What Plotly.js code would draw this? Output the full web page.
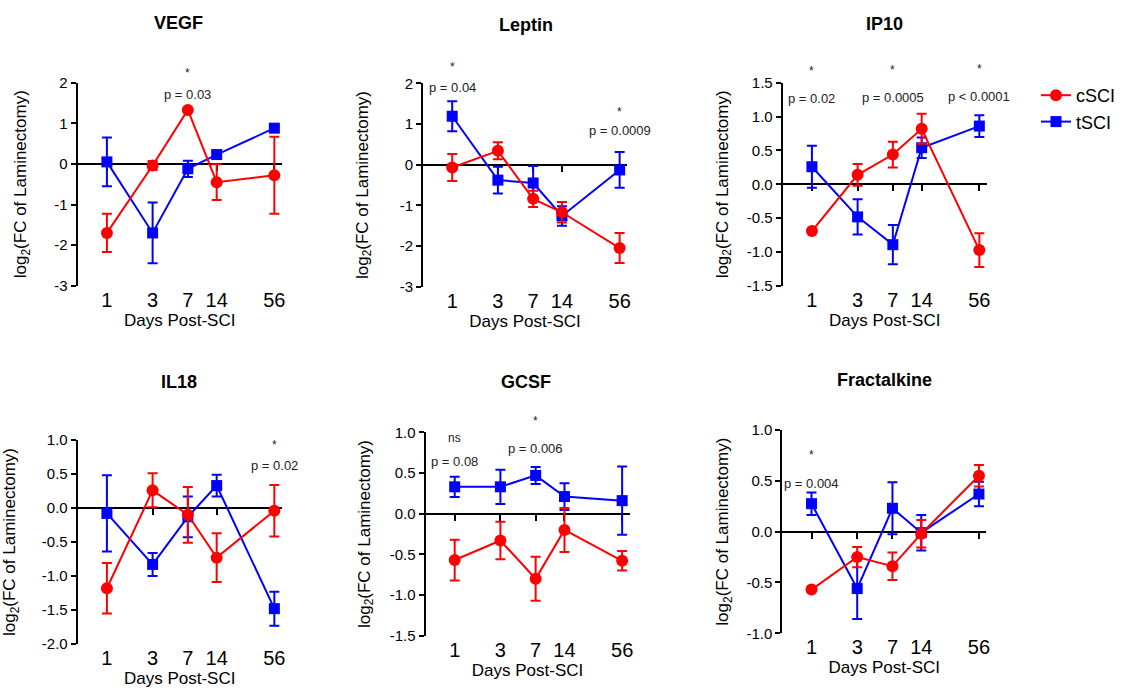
<!DOCTYPE html>
<html>
<head>
<meta charset="utf-8">
<script src="https://cdn.plot.ly/plotly-3.0.1.min.js"></script>
<style>html,body{margin:0;padding:0;background:#fff;}#chart{width:1126px;height:688px;}</style>
</head>
<body>
<div id="chart"></div>
<script>
// ---------- DATA ----------
const days = [1, 3, 7, 14, 56];
const dayLabels = ['1', '3', '7', '14', '56'];
const seriesNames = ['cSCI', 'tSCI'];

const panelNames = ['VEGF', 'Leptin', 'IP10', 'IL18', 'GCSF', 'Fractalkine'];

const vegfC = [-1.70, -0.04, 1.33, -0.45, -0.28];
const vegfCErr = [0.47, 0.11, 0.03, 0.44, 0.95];
const vegfT = [0.05, -1.70, -0.12, 0.23, 0.88];
const vegfTErr = [0.60, 0.75, 0.20, 0.07, 0.05];

const leptinC = [-0.07, 0.34, -0.84, -1.17, -2.05];
const leptinCErr = [0.33, 0.21, 0.20, 0.25, 0.37];
const leptinT = [1.19, -0.38, -0.45, -1.26, -0.13];
const leptinTErr = [0.37, 0.33, 0.42, 0.24, 0.44];

const ip10C = [-0.69, 0.14, 0.44, 0.82, -0.97];
const ip10CErr = [0.02, 0.16, 0.19, 0.22, 0.25];
const ip10T = [0.26, -0.48, -0.89, 0.54, 0.86];
const ip10TErr = [0.31, 0.26, 0.29, 0.15, 0.16];

const il18C = [-1.18, 0.26, -0.10, -0.73, -0.04];
const il18CErr = [0.37, 0.25, 0.41, 0.36, 0.38];
const il18T = [-0.08, -0.83, -0.13, 0.33, -1.48];
const il18TErr = [0.56, 0.17, 0.30, 0.16, 0.25];

const gcsfC = [-0.57, -0.33, -0.80, -0.20, -0.58];
const gcsfCErr = [0.25, 0.23, 0.27, 0.27, 0.12];
const gcsfT = [0.33, 0.33, 0.47, 0.21, 0.16];
const gcsfTErr = [0.125, 0.21, 0.105, 0.165, 0.42];

const fracC = [-0.57, -0.25, -0.34, -0.02, 0.55];
const fracCErr = [0.01, 0.10, 0.135, 0.135, 0.105];
const fracT = [0.275, -0.56, 0.23, -0.01, 0.37];
const fracTErr = [0.11, 0.30, 0.255, 0.175, 0.12];

// y tick values per panel
const vegfTicks = [-3, -2, -1, 0, 1, 2];
const leptinTicks = [-3, -2, -1, 0, 1, 2];
const ip10Ticks = [-1.5, -1.0, -0.5, 0.0, 0.5, 1.0, 1.5];
const il18Ticks = [-2.0, -1.5, -1.0, -0.5, 0.0, 0.5, 1.0];
const gcsfTicks = [-1.5, -1.0, -0.5, 0.0, 0.5, 1.0];
const fracTicks = [-1.0, -0.5, 0.0, 0.5, 1.0];

// significance labels (day, star text, p text)
const vegfSigDays = [7];        const vegfSigStars = ['*'];        const vegfSigP = ['p = 0.03'];
const leptinSigDays = [1, 56];  const leptinSigStars = ['*', '*']; const leptinSigP = ['p = 0.04', 'p = 0.0009'];
const ip10SigDays = [1, 7, 56]; const ip10SigStars = ['*', '*', '*']; const ip10SigP = ['p = 0.02', 'p = 0.0005', 'p < 0.0001'];
const il18SigDays = [56];       const il18SigStars = ['*'];        const il18SigP = ['p = 0.02'];
const gcsfSigDays = [1, 7];     const gcsfSigStars = ['ns', '*'];  const gcsfSigP = ['p = 0.08', 'p = 0.006'];
const fracSigDays = [1];        const fracSigStars = ['*'];        const fracSigP = ['p = 0.004'];

// ---------- LAYOUT CONFIG ----------
const W = 1126, H = 688;
const FONT = 'Arial, "Liberation Sans", Helvetica, sans-serif';
const RED = '#ff0000', BLUE = '#0000ff';

const panels = [
  {name: panelNames[0], c: vegfC, cE: vegfCErr, t: vegfT, tE: vegfTErr, ticks: vegfTicks, dec: 0,
   sd: vegfSigDays, ss: vegfSigStars, sp: vegfSigP, starY: [2.23], pY: [1.72],
   px: [77.7, 281.7], py: [82.7, 285.7], title: [179, 23], ytStand: 23},
  {name: panelNames[1], c: leptinC, cE: leptinCErr, t: leptinT, tE: leptinTErr, ticks: leptinTicks, dec: 0,
   sd: leptinSigDays, ss: leptinSigStars, sp: leptinSigP, starY: [2.39, 1.30], pY: [1.90, 0.84],
   px: [423, 627], py: [83.3, 286.7], title: [526, 25], ytStand: 27},
  {name: panelNames[2], c: ip10C, cE: ip10CErr, t: ip10T, tE: ip10TErr, ticks: ip10Ticks, dec: 1,
   sd: ip10SigDays, ss: ip10SigStars, sp: ip10SigP, starY: [1.67, 1.69, 1.70], pY: [1.27, 1.28, 1.29],
   px: [782.7, 986.7], py: [82.7, 286], title: [884, 24], ytStand: 14},
  {name: panelNames[3], c: il18C, cE: il18CErr, t: il18T, tE: il18TErr, ticks: il18Ticks, dec: 1,
   sd: il18SigDays, ss: il18SigStars, sp: il18SigP, starY: [0.92], pY: [0.63],
   px: [77.7, 281.7], py: [440, 644], title: [179, 382], ytStand: 22},
  {name: panelNames[4], c: gcsfC, cE: gcsfCErr, t: gcsfT, tE: gcsfTErr, ticks: gcsfTicks, dec: 1,
   sd: gcsfSigDays, ss: gcsfSigStars, sp: gcsfSigP, starY: [0.93, 1.14], pY: [0.64, 0.80],
   px: [425.5, 629.5], py: [432.3, 635.7], title: [526, 382], ytStand: 15},
  {name: panelNames[5], c: fracC, cE: fracCErr, t: fracT, tE: fracTErr, ticks: fracTicks, dec: 1,
   sd: fracSigDays, ss: fracSigStars, sp: fracSigP, starY: [0.75], pY: [0.475],
   px: [782.3, 986.3], py: [430, 633.3], title: [885, 380], ytStand: 13}
];

const XR = [-0.305, 1.825];

const data = [];
const layout = {
  width: W, height: H, autosize: false,
  margin: {l: 0, r: 0, t: 0, b: 0},
  paper_bgcolor: '#fff', plot_bgcolor: 'rgba(0,0,0,0)',
  font: {family: FONT, color: '#000'},
  showlegend: true,
  legend: {x: 1036 / W, y: 1 - 77 / H, xanchor: 'left', yanchor: 'top',
           font: {family: FONT, size: 18, color: '#000'}, bgcolor: 'rgba(0,0,0,0)',
           tracegroupgap: 0},
  annotations: []
};

panels.forEach((p, i) => {
  const n = i + 1;
  const xid = n === 1 ? 'x' : 'x' + n;
  const yid = n === 1 ? 'y' : 'y' + n;
  const xkey = n === 1 ? 'xaxis' : 'xaxis' + n;
  const ykey = n === 1 ? 'yaxis' : 'yaxis' + n;
  const tn = n + 6;
  const txid = 'x' + tn, txkey = 'xaxis' + tn;
  const ymin = p.ticks[0], ymax = p.ticks[p.ticks.length - 1];
  const yDom = [1 - p.py[1] / H, 1 - p.py[0] / H];
  const xDom = [p.px[0] / W, p.px[1] / W];
  const toPaperY = v => yDom[0] + (v - ymin) / (ymax - ymin) * (yDom[1] - yDom[0]);
  const zeroPos = toPaperY(0);

  // bottom axis: tick labels and title only
  layout[xkey] = {
    domain: xDom, type: 'log', range: XR, anchor: yid,
    showline: false, ticks: '',
    tickvals: days, ticktext: dayLabels,
    tickfont: {family: FONT, size: 20, color: '#000'},
    showgrid: false, zeroline: false, fixedrange: true,
    title: {text: 'Days Post-SCI', font: {family: FONT, size: 17, color: '#000'}, standoff: 3}
  };
  // tick marks on the y = 0 line
  layout[txkey] = {
    domain: xDom, type: 'log', range: XR, overlaying: xid,
    anchor: 'free', position: zeroPos, side: 'bottom', layer: 'below traces',
    showline: false, ticks: 'outside', ticklen: 6, tickwidth: 2, tickcolor: '#000',
    tickvals: days, showticklabels: false,
    showgrid: false, zeroline: false, fixedrange: true
  };
  layout[ykey] = {
    domain: yDom, range: [ymin, ymax], anchor: xid,
    showline: true, linecolor: '#000', linewidth: 2,
    ticks: 'outside', ticklen: 5, tickwidth: 2, tickcolor: '#000',
    tickvals: p.ticks, ticktext: p.ticks.map(v => v.toFixed(p.dec)),
    tickfont: {family: FONT, size: 15, color: '#000'},
    showgrid: false, fixedrange: true,
    zeroline: true, zerolinecolor: '#000', zerolinewidth: 2,
    title: {text: 'log<sub>2</sub>(FC of Laminectomy)', font: {family: FONT, size: 17, color: '#000'}, standoff: p.ytStand}
  };

  // invisible carrier trace so the tick axis is drawn
  data.push({x: days, y: days.map(() => null), xaxis: txid, yaxis: yid, type: 'scatter', mode: 'markers',
             showlegend: false, hoverinfo: 'skip'});

  const common = {xaxis: xid, yaxis: yid, type: 'scatter', mode: 'lines+markers', cliponaxis: false, hoverinfo: 'skip'};
  data.push(Object.assign({}, common, {
    x: days, y: p.t, name: seriesNames[1], legendgroup: 't', showlegend: n === 3, legendrank: 2,
    line: {color: BLUE, width: 2},
    marker: {symbol: 'square', size: 11, color: BLUE},
    error_y: {type: 'data', array: p.tE, visible: true, color: BLUE, thickness: 2, width: 5}
  }));
  data.push(Object.assign({}, common, {
    x: days, y: p.c, name: seriesNames[0], legendgroup: 'c', showlegend: n === 3, legendrank: 1,
    line: {color: RED, width: 2},
    marker: {symbol: 'circle', size: 12, color: RED},
    error_y: {type: 'data', array: p.cE, visible: true, color: RED, thickness: 2, width: 5}
  }));

  layout.annotations.push({
    xref: 'paper', yref: 'paper', x: p.title[0] / W, y: 1 - p.title[1] / H,
    xanchor: 'center', yanchor: 'middle', showarrow: false,
    text: '<b>' + p.name + '</b>', font: {family: FONT, size: 18, color: '#000'}
  });
  p.sd.forEach((d, k) => {
    layout.annotations.push({
      xref: xid, yref: 'paper', x: Math.log10(d), y: toPaperY(p.starY[k]), showarrow: false,
      xanchor: 'center', yanchor: 'middle', text: p.ss[k],
      font: {family: FONT, size: 12, color: '#222'}
    });
    layout.annotations.push({
      xref: xid, yref: 'paper', x: Math.log10(d), y: toPaperY(p.pY[k]), showarrow: false,
      xanchor: 'center', yanchor: 'middle', text: p.sp[k],
      font: {family: FONT, size: 13, color: '#222'}
    });
  });
});

Plotly.newPlot('chart', data, layout, {staticPlot: true, displayModeBar: false});
</script>
</body>
</html>
